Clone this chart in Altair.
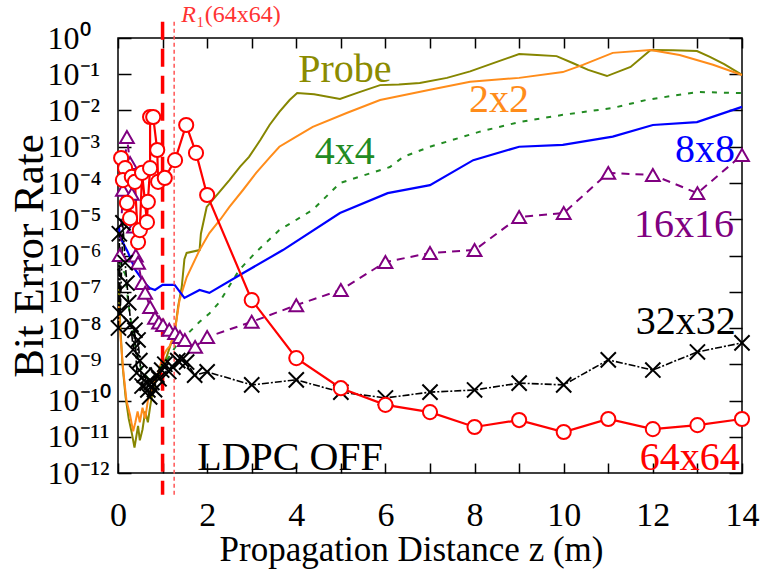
import altair as alt
import pandas as pd

FONT = "Liberation Serif"

# ---- data: (propagation distance z [m], log10 of bit error rate) ----
probe = [(0.02,-6.8),(0.05,-7.9),(0.10,-9.0),(0.17,-9.9),(0.24,-10.5),(0.31,-10.9),(0.37,-11.3),
         (0.41,-11.0),(0.45,-10.7),(0.49,-11.1),(0.55,-10.8),(0.61,-10.3),(0.67,-10.6),(0.73,-10.1),
         (0.79,-9.7),(0.86,-9.4),(0.94,-9.3),(1.01,-9.0),(1.09,-8.8),(1.17,-8.5),(1.27,-8.14),
         (1.35,-7.4),(1.43,-6.87),(1.49,-6.1),(1.54,-5.93),(1.83,-5.85),(1.86,-5.4),(1.99,-4.66),
         (2.24,-4.3),(2.50,-3.92),(2.74,-3.55),(2.94,-3.28),(3.20,-2.8),(3.40,-2.4),(3.62,-2.04),
         (3.85,-1.71),(4.02,-1.52),(4.40,-1.55),(4.98,-1.68),(5.40,-1.5),(5.88,-1.30),(6.30,-1.28),
         (6.77,-1.24),(7.38,-1.10),(7.90,-0.92),(8.50,-0.66),(9.00,-0.44),(9.40,-0.47),(9.84,-0.50),
         (10.20,-0.69),(10.55,-0.88),(10.97,-1.05),(11.50,-0.80),(11.95,-0.33),(12.45,-0.34),
         (12.99,-0.36),(13.28,-0.52),(13.60,-0.72),(14.00,-1.02)]
mimo2 = [(0.02,-7.4),(0.06,-8.3),(0.12,-9.2),(0.19,-10.0),(0.27,-10.4),(0.34,-10.85),(0.39,-10.6),
         (0.44,-10.3),(0.49,-10.6),(0.55,-10.2),(0.61,-10.5),(0.67,-10.0),(0.74,-9.8),(0.81,-9.5),
         (0.89,-9.3),(1.00,-8.8),(1.09,-8.6),(1.16,-8.5),(1.27,-8.14),(1.38,-7.23),(1.54,-6.6),
         (1.83,-5.85),(2.05,-5.38),(2.30,-5.0),(2.50,-4.66),(2.80,-4.2),(3.10,-3.72),(3.40,-3.3),
         (3.62,-3.0),(4.00,-2.72),(4.37,-2.45),(5.13,-2.07),(5.88,-1.71),(7.00,-1.43),(7.90,-1.21),
         (9.00,-1.10),(9.98,-0.94),(10.43,-0.74),(11.10,-0.41),(11.95,-0.33),(12.60,-0.47),
         (13.35,-0.74),(14.00,-1.02)]
mimo4 = [(0.02,-5.8),(0.05,-6.3),(0.16,-6.5),(0.24,-7.4),(0.34,-8.2),(0.44,-8.8),(0.54,-9.2),
         (0.65,-9.35),(0.74,-9.5),(0.84,-9.3),(0.94,-9.1),(1.09,-8.9),(1.30,-8.5),(1.61,-8.1),
         (1.83,-7.83),(2.05,-7.6),(2.28,-7.28),(2.72,-6.4),(3.10,-5.9),(3.62,-5.30),(4.37,-4.74),
         (4.98,-4.0),(6.10,-3.56),(6.40,-3.28),(7.00,-3.0),(8.10,-2.59),(9.00,-2.32),(9.98,-2.12),
         (11.10,-1.93),(11.85,-1.71),(12.99,-1.49),(14.00,-1.52)]
mimo8 = [(0.02,-5.2),(0.05,-5.5),(0.22,-5.9),(0.39,-6.4),(0.60,-6.76),(0.71,-6.9),(0.83,-6.95),
         (1.00,-6.81),(1.27,-6.81),(1.49,-7.17),(1.83,-6.95),(2.05,-7.03),(2.80,-6.49),(3.70,-5.85),
         (4.98,-4.83),(6.05,-4.28),(7.00,-4.06),(7.97,-3.37),(9.00,-3.0),(9.98,-2.95),(11.10,-2.72),
         (12.00,-2.40),(12.99,-2.32),(14.00,-1.90)]
mimo16 = [(0.04,-5.99),(0.11,-4.19),(0.20,-2.73),(0.27,-3.45),(0.31,-4.3),(0.36,-5.2),(0.40,-6.0),
          (0.45,-6.2),(0.54,-6.76),(0.61,-7.03),(0.72,-7.42),(0.83,-7.72),(0.92,-7.85),(1.01,-7.92),
          (1.15,-8.05),(1.28,-8.14),(1.39,-8.25),(1.50,-8.33),(1.73,-8.52),(2.00,-8.25),(3.00,-7.83),
          (4.00,-7.37),(5.00,-6.95),(6.00,-6.18),(7.00,-5.93),(8.00,-5.85),(9.00,-4.94),(10.00,-4.83),
          (11.00,-3.72),(12.00,-3.78),(13.00,-4.28),(14.00,-3.23)]
mimo32 = [(0.01,-8.0),(0.03,-5.4),(0.05,-7.6),(0.11,-5.1),(0.16,-6.2),(0.20,-6.76),(0.24,-7.3),
          (0.29,-7.9),(0.34,-8.6),(0.38,-8.06),(0.42,-9.24),(0.45,-8.33),(0.49,-8.9),(0.54,-9.6),
          (0.59,-9.3),(0.65,-9.52),(0.67,-9.71),(0.71,-9.9),(0.76,-9.5),(0.82,-9.7),(0.87,-9.3),
          (0.92,-9.4),(0.98,-9.16),(1.05,-9.0),(1.14,-9.2),(1.23,-9.08),(1.34,-8.9),(1.43,-8.88),
          (1.54,-8.94),(1.72,-9.3),(2.00,-9.21),(3.00,-9.57),(4.00,-9.43),(5.00,-9.77),(6.00,-9.93),
          (7.00,-9.77),(8.00,-9.71),(9.00,-9.52),(10.00,-9.57),(11.00,-8.88),(12.00,-9.16),
          (13.00,-8.66),(14.00,-8.41)]
mimo64 = [(0.07,-3.31),(0.16,-3.59),(0.11,-3.92),(0.20,-4.55),(0.27,-4.97),(0.31,-3.83),(0.38,-3.97),
          (0.45,-5.63),(0.49,-5.3),(0.54,-3.72),(0.65,-5.08),(0.67,-4.52),(0.72,-3.59),(0.72,-2.18),
          (0.79,-2.18),(0.88,-3.09),(0.90,-3.97),(1.05,-3.86),(1.28,-3.37),(1.53,-2.40),(1.75,-3.17),
          (2.00,-4.33),(3.00,-7.23),(4.00,-8.83),(5.00,-9.66),(6.00,-10.12),(7.00,-10.32),
          (8.00,-10.73),(9.00,-10.54),(10.00,-10.87),(11.00,-10.51),(12.00,-10.79),(13.00,-10.68),
          (14.00,-10.51)]

# R1 markers (vertical lines) positions
r1_z = [1.0]
r1b_z = [1.26]
rule_top, rule_bottom = 0.45, -12.6

label_text = ["Probe", "2x2", "4x4", "8x8", "16x16", "32x32", "64x64", "LDPC OFF"]
label_z = [5.09, 8.55, 5.09, 13.17, 12.70, 12.74, 12.83, 3.86]
label_e = [-0.88, -1.71, -3.14, -3.09, -5.16, -7.83, -11.59, -11.59]
label_color = ["#8B8B00", "#FF8C1A", "#228B22", "#0000FF", "#800080", "#000000", "#FF0000", "#000000"]

x_ticks = list(range(0, 15))
y_ticks = list(range(-12, 1))

W, H = 624, 435

def frame(pts):
    return pd.DataFrame({"z": [p[0] for p in pts], "e": [p[1] for p in pts], "i": list(range(len(pts)))})

xs = alt.Scale(domain=[0, 14], nice=False, zero=False)
ys = alt.Scale(domain=[-12, 0], nice=False, zero=False)

SUP = "['⁰','¹','²','³','⁴','⁵','⁶','⁷','⁸','⁹']"
ylab = ("'10' + (round(datum.value) < 0 ? '⁻' : '') + (abs(round(datum.value)) >= 10 ? "
        + SUP + "[floor(abs(round(datum.value))/10)] : '') + " + SUP + "[abs(round(datum.value)) % 10]")

x_axis_main = alt.Axis(values=x_ticks, labelExpr="datum.value % 2 == 0 ? datum.label : ''",
                       orient="bottom", offset=-10, tickSize=10, tickWidth=1.5, tickColor="black",
                       domain=False, grid=False, labelFontSize=34, labelPadding=25,
                       labelFlush=False, labelOverlap=False, labelColor="black",
                       title="Propagation Distance z (m)", titleFontSize=35, titleFontWeight="normal",
                       titlePadding=0, titleX=293, titleColor="black")
y_axis_main = alt.Axis(values=y_ticks, labelExpr=ylab, orient="left", offset=-13, tickSize=13,
                       tickWidth=1.5, tickColor="black", domain=False, grid=False,
                       labelFontSize=32, labelAlign="left", labelPadding=71, labelOverlap=False,
                       labelColor="black", title="Bit Error Rate", titleFontSize=43,
                       titleFontWeight="normal", titlePadding=-4, titleColor="black")
x_axis_top = alt.Axis(values=x_ticks, orient="top", offset=-10, tickSize=10, tickWidth=1.5,
                      tickColor="black", domain=False, grid=False, labels=False, title=None)
y_axis_right = alt.Axis(values=y_ticks, orient="right", offset=-13, tickSize=13, tickWidth=1.5,
                        tickColor="black", domain=False, grid=False, labels=False, title=None)


def line(pts, color, width, dash=None, xaxis=None, yaxis=None):
    kw = dict(color=color, strokeWidth=width, clip=False)
    if dash is not None:
        kw["strokeDash"] = dash
    return alt.Chart(frame(pts)).mark_line(**kw).encode(
        x=alt.X("z:Q", scale=xs, axis=xaxis),
        y=alt.Y("e:Q", scale=ys, axis=yaxis),
        order=alt.Order("i:Q"),
    )


def markers(pts, shape, color, size, fill="white", width=2):
    kw = dict(shape=shape, size=size, stroke=color, strokeWidth=width, opacity=1)
    if fill is None:
        kw["filled"] = False
    else:
        kw["filled"] = True
        kw["fill"] = fill
    return alt.Chart(frame(pts)).mark_point(**kw).encode(
        x=alt.X("z:Q", scale=xs, axis=None),
        y=alt.Y("e:Q", scale=ys, axis=None),
    )


layers = [
    line(probe, "#868600", 2, xaxis=x_axis_main, yaxis=y_axis_main),
    line(mimo2, "#FF8C1A", 2),
    line(mimo4, "#228B22", 2, dash=[5, 7]),
    line(mimo8, "#0000FF", 2.2),
    line(mimo16, "#800080", 2, dash=[8, 6]),
    line(mimo32, "#000000", 1.6, dash=[7, 2, 2, 2]),
    line(mimo64, "#FF0000", 2.2),
]

rule_df = pd.DataFrame({"z": r1_z, "y1": [rule_top], "y2": [rule_bottom]})
rule_df2 = pd.DataFrame({"z": r1b_z, "y1": [rule_top], "y2": [rule_bottom]})
layers.append(alt.Chart(rule_df).mark_rule(color="#FF0000", strokeWidth=3.5, strokeDash=[18, 9]).encode(
    x=alt.X("z:Q", scale=xs, axis=x_axis_top),
    y=alt.Y("y1:Q", scale=ys, axis=y_axis_right),
    y2="y2:Q",
))
layers.append(alt.Chart(rule_df2).mark_rule(color="#FF5555", strokeWidth=1.5, strokeDash=[4, 3]).encode(
    x=alt.X("z:Q", scale=xs, axis=None),
    y=alt.Y("y1:Q", scale=ys, axis=None),
    y2="y2:Q",
))

layers += [
    markers(mimo16, "triangle-up", "#800080", 190),
    markers(mimo32, "M-1,-1L1,1M-1,1L1,-1", "#000000", 230, fill=None),
    markers(mimo64, "circle", "#FF0000", 200),
]

lab_df = pd.DataFrame({"t": label_text, "z": label_z, "e": label_e, "c": label_color})
layers.append(alt.Chart(lab_df).mark_text(font=FONT, fontSize=40, baseline="middle", align="center").encode(
    x=alt.X("z:Q", scale=xs, axis=None),
    y=alt.Y("e:Q", scale=ys, axis=None),
    text="t:N",
    color=alt.Color("c:N", scale=None),
))

r_df = pd.DataFrame({"z": [1.42], "e": [0.63]})
layers.append(alt.Chart(r_df).mark_text(font=FONT, fontSize=24, fontStyle="italic", align="left",
                                        baseline="middle", color="#FF3333").encode(
    x=alt.X("z:Q", scale=xs, axis=None), y=alt.Y("e:Q", scale=ys, axis=None), text=alt.value("R")))
layers.append(alt.Chart(r_df).mark_text(font=FONT, fontSize=24, align="left", baseline="middle",
                                        color="#FF3333", dx=15).encode(
    x=alt.X("z:Q", scale=xs, axis=None), y=alt.Y("e:Q", scale=ys, axis=None), text=alt.value("₁(64x64)")))

chart = alt.layer(*layers).resolve_axis(x="independent", y="independent").properties(
    width=W, height=H,
    autosize=alt.AutoSizeParams(type="none"),
    padding={"left": 118, "top": 38, "right": 20, "bottom": 97},
    background="white",
).configure_view(stroke="black", strokeWidth=1.5).configure_axis(
    labelFont=FONT, titleFont=FONT
).configure_text(font=FONT)

chart.save("out.html", embed_options={"renderer": "svg", "actions": False})
